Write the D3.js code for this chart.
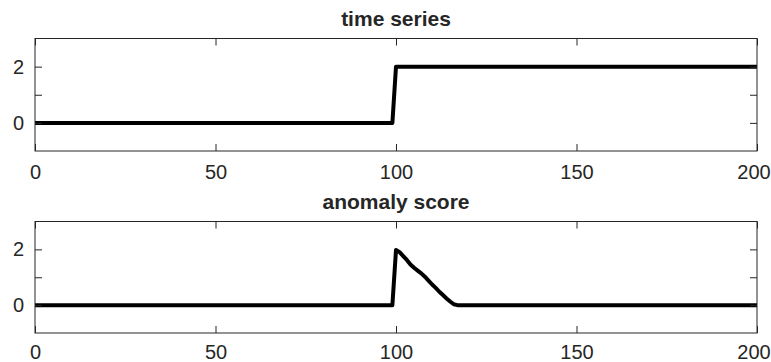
<!DOCTYPE html>
<html>
<head>
<meta charset="utf-8">
<script src="https://cdn.jsdelivr.net/npm/d3@7"></script>
<style>
  body { margin: 0; background: #fff; }
  svg { display: block; }
  text { font-family: "Liberation Sans", Arial, Helvetica, sans-serif; fill: #262626; }
</style>
</head>
<body>
<div id="chart"></div>
<script>
// time series: step from 0 to 2 at t = 100
var timeX = [0, 99, 100, 200];
var timeY = [0, 0, 2, 2];

// anomaly score: spike at 100, decays back to 0 by ~117
var scoreX = [0, 99, 100, 101, 102, 103, 104, 105, 106, 107, 108, 109, 110, 111, 112, 113, 114, 115, 116, 117, 200];
var scoreY = [0, 0, 1.98, 1.9, 1.76, 1.62, 1.46, 1.34, 1.24, 1.14, 1.02, 0.88, 0.74, 0.62, 0.48, 0.36, 0.24, 0.13, 0.03, 0, 0];

var xTicks = [0, 50, 100, 150, 200];
var yTicks = [0, 1, 2];
var yTickLabels = ["0", "", "2"];
var titles = ["time series", "anomaly score"];

const svg_width = 771, svg_height = 362;
const axColor = "#262626";
const tickLen = 7;

const svg = d3.select("#chart").append("svg")
  .attr("width", svg_width).attr("height", svg_height);

const xScale = d3.scaleLinear().domain([0, 200]).range([35, 757]);

function panel(top, bottom, title, xs, ys, labelPad) {
  const yScale = d3.scaleLinear().domain([-1, 3]).range([bottom, top]);
  const g = svg.append("g");

  // line first so the frame sits on top
  const pts = xs.map((x, i) => [x, ys[i]]);
  g.append("path").datum(pts)
    .attr("fill", "none").attr("stroke", "#000").attr("stroke-width", 4)
    .attr("stroke-linejoin", "round")
    .attr("d", d3.line().x(d => xScale(d[0])).y(d => yScale(d[1])));

  const xb = d3.axisBottom(xScale).tickValues(xTicks).tickSizeInner(-tickLen).tickSizeOuter(0).tickPadding(labelPad);
  const xt = d3.axisTop(xScale).tickValues(xTicks).tickSizeInner(-tickLen).tickSizeOuter(0).tickFormat("");
  const yl = d3.axisLeft(yScale).tickValues(yTicks).tickSizeInner(-tickLen).tickSizeOuter(0).tickPadding(11)
    .tickFormat((d, i) => yTickLabels[i]);
  const yr = d3.axisRight(yScale).tickValues(yTicks).tickSizeInner(-tickLen).tickSizeOuter(0).tickFormat("");

  const xbG = g.append("g").attr("transform", `translate(0,${bottom})`).call(xb);
  g.append("g").attr("transform", `translate(0,${top})`).call(xt);
  g.append("g").attr("transform", `translate(${xScale.range()[0]},0)`).call(yl);
  g.append("g").attr("transform", `translate(${xScale.range()[1]},0)`).call(yr);

  g.selectAll(".domain").remove();
  g.selectAll(".tick line").attr("stroke", axColor);
  g.selectAll(".tick text").style("font-size", "20px").attr("fill", axColor);
  // last label nudged in so it stays inside the window
  xbG.selectAll(".tick text").filter(d => d === 200).attr("dx", -3.5);

  g.append("rect")
    .attr("x", xScale.range()[0]).attr("y", top)
    .attr("width", xScale.range()[1] - xScale.range()[0]).attr("height", bottom - top)
    .attr("fill", "none").attr("stroke", axColor).attr("stroke-width", 1);

  g.append("text")
    .attr("x", (xScale.range()[0] + xScale.range()[1]) / 2).attr("y", top - 12.5)
    .attr("text-anchor", "middle")
    .style("font-size", "21px").style("font-weight", "bold").attr("fill", "#000")
    .text(title);
}

panel(38.5, 151, titles[0], timeX, timeY, 14);
panel(221.5, 333, titles[1], scoreX, scoreY, 12);
</script>
</body>
</html>
